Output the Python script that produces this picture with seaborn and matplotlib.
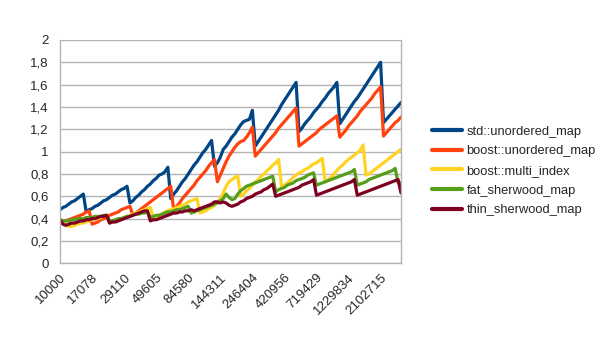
import matplotlib
matplotlib.use("Agg")
import matplotlib.pyplot as plt
import seaborn as sns
import pandas as pd
from matplotlib.lines import Line2D

series_names = ["std::unordered_map", "boost::unordered_map", "boost::multi_index",
                "fat_sherwood_map", "thin_sherwood_map"]
colors = ["#004586", "#ff420e", "#ffd320", "#579d1c", "#7e0021"]

tick_labels = ["10000", "17078", "29110", "49605", "84580", "144311",
               "246404", "420956", "719429", "1229834", "2102715"]

std_unordered = [
    0.48, 0.50, 0.51, 0.53, 0.55, 0.56, 0.58, 0.60, 0.62,
    0.46, 0.48, 0.49, 0.51, 0.52, 0.54, 0.56, 0.57, 0.59, 0.61, 0.62, 0.64, 0.66, 0.67, 0.69,
    0.54, 0.56, 0.59, 0.61, 0.64, 0.66, 0.69, 0.71, 0.74, 0.76, 0.79, 0.80, 0.82, 0.86,
    0.58, 0.62, 0.65, 0.69, 0.73, 0.76, 0.80, 0.84, 0.88, 0.91, 0.95, 0.99, 1.02, 1.06, 1.10,
    0.87, 0.90, 0.95, 1.02, 1.05, 1.09, 1.13, 1.16, 1.20, 1.24, 1.27, 1.28, 1.29, 1.37,
    1.05, 1.09, 1.13, 1.17, 1.21, 1.25, 1.29, 1.33, 1.37, 1.42, 1.46, 1.50, 1.54, 1.58, 1.62,
    1.18, 1.21, 1.25, 1.28, 1.31, 1.35, 1.38, 1.41, 1.45, 1.48, 1.52, 1.55, 1.58, 1.62,
    1.25, 1.29, 1.33, 1.37, 1.41, 1.45, 1.48, 1.52, 1.56, 1.60, 1.64, 1.68, 1.72, 1.76, 1.80,
    1.26, 1.29, 1.32, 1.35, 1.38, 1.41, 1.44,
]

boost_unordered = [
    0.36, 0.37, 0.38, 0.39, 0.40, 0.41, 0.42, 0.43, 0.44, 0.46, 0.47,
    0.35, 0.36, 0.37, 0.39, 0.40, 0.41, 0.43, 0.44, 0.45, 0.46, 0.48, 0.49, 0.50, 0.51,
    0.43, 0.45, 0.47, 0.49, 0.51, 0.53, 0.55, 0.57, 0.59, 0.61, 0.63, 0.65, 0.67, 0.69,
    0.48, 0.51, 0.54, 0.58, 0.61, 0.64, 0.67, 0.70, 0.74, 0.77, 0.80, 0.83, 0.87, 0.90, 0.93,
    0.73, 0.79, 0.85, 0.91, 0.96, 1.00, 1.04, 1.07, 1.09, 1.10, 1.13, 1.17, 1.22,
    0.96, 0.99, 1.02, 1.05, 1.08, 1.11, 1.14, 1.17, 1.21, 1.24, 1.27, 1.30, 1.33, 1.36, 1.39,
    1.05, 1.07, 1.09, 1.11, 1.13, 1.15, 1.17, 1.20, 1.22, 1.24, 1.26, 1.28, 1.30, 1.32,
    1.13, 1.16, 1.19, 1.23, 1.26, 1.29, 1.32, 1.36, 1.39, 1.42, 1.45, 1.48, 1.52, 1.55, 1.58,
    1.14, 1.17, 1.20, 1.23, 1.26, 1.28, 1.31,
]

boost_multi_index = [
    0.39, 0.37, 0.34, 0.33, 0.33, 0.34, 0.35, 0.36, 0.36, 0.37, 0.38, 0.39, 0.40, 0.40, 0.41, 0.42, 0.43,
    0.36, 0.37, 0.38, 0.39, 0.40, 0.41, 0.42, 0.43, 0.44, 0.45, 0.46, 0.47, 0.48, 0.49, 0.50,
    0.41, 0.42, 0.43, 0.44, 0.46, 0.47, 0.48, 0.49, 0.50, 0.51, 0.52, 0.53, 0.55, 0.56, 0.57, 0.58,
    0.45, 0.46, 0.47, 0.49, 0.50, 0.52, 0.55, 0.58, 0.63, 0.69, 0.73, 0.75, 0.77, 0.78,
    0.60, 0.62, 0.65, 0.67, 0.70, 0.73, 0.75, 0.78, 0.80, 0.83, 0.85, 0.88, 0.90, 0.93,
    0.69, 0.70, 0.72, 0.74, 0.77, 0.79, 0.81, 0.82, 0.84, 0.85, 0.87, 0.89, 0.90, 0.92, 0.94,
    0.73, 0.75, 0.77, 0.80, 0.83, 0.86, 0.88, 0.91, 0.93, 0.95, 0.97, 0.99, 1.01, 1.06,
    0.79, 0.80, 0.82, 0.84, 0.86, 0.88, 0.90, 0.92, 0.94, 0.96, 0.98, 1.00, 1.02,
]

fat_sherwood = [
    0.39, 0.38, 0.38, 0.38, 0.39, 0.39, 0.40, 0.40, 0.40, 0.41, 0.41, 0.41, 0.42, 0.42, 0.42, 0.43, 0.43,
    0.38, 0.38, 0.39, 0.40, 0.40, 0.41, 0.42, 0.42, 0.43, 0.44, 0.44, 0.45, 0.45, 0.46,
    0.41, 0.42, 0.43, 0.43, 0.44, 0.45, 0.46, 0.46, 0.47, 0.48, 0.48, 0.49, 0.50, 0.51,
    0.45, 0.46, 0.47, 0.48, 0.49, 0.50, 0.51, 0.52, 0.53, 0.54, 0.56, 0.58, 0.62,
    0.59, 0.57, 0.58, 0.62, 0.65, 0.67, 0.69, 0.70, 0.71, 0.72, 0.73, 0.74, 0.75, 0.76, 0.77, 0.78,
    0.64, 0.66, 0.67, 0.68, 0.70, 0.71, 0.72, 0.74, 0.75, 0.76, 0.77, 0.79, 0.80, 0.81,
    0.70, 0.71, 0.72, 0.73, 0.74, 0.75, 0.76, 0.77, 0.78, 0.79, 0.80, 0.81, 0.82, 0.84,
    0.70, 0.71, 0.72, 0.73, 0.75, 0.76, 0.77, 0.78, 0.79, 0.80, 0.81, 0.82, 0.83, 0.85,
    0.72, 0.72,
]

thin_sherwood = [
    0.39, 0.35, 0.34, 0.35, 0.36, 0.36, 0.37, 0.38, 0.38, 0.39, 0.39, 0.40, 0.40, 0.41, 0.42, 0.42, 0.43,
    0.36, 0.37, 0.37, 0.38, 0.39, 0.40, 0.41, 0.42, 0.43, 0.44, 0.45, 0.46, 0.47, 0.47,
    0.38, 0.39, 0.39, 0.40, 0.41, 0.42, 0.43, 0.44, 0.45, 0.45, 0.46, 0.46, 0.47, 0.47, 0.48,
    0.47, 0.48, 0.49, 0.50, 0.51, 0.52, 0.53, 0.55, 0.55, 0.54, 0.55, 0.54, 0.52, 0.51,
    0.52, 0.53, 0.55, 0.56, 0.58, 0.59, 0.60, 0.62, 0.63, 0.64, 0.66, 0.67, 0.69, 0.71,
    0.60, 0.61, 0.62, 0.63, 0.64, 0.65, 0.66, 0.67, 0.68, 0.70, 0.71, 0.72, 0.73, 0.75,
    0.61, 0.62, 0.63, 0.64, 0.65, 0.66, 0.67, 0.68, 0.69, 0.70, 0.71, 0.72, 0.73, 0.75,
    0.61, 0.62, 0.63, 0.64, 0.65, 0.66, 0.67, 0.68, 0.69, 0.70, 0.71, 0.72, 0.73, 0.74, 0.75,
    0.63,
]

all_series = [std_unordered, boost_unordered, boost_multi_index, fat_sherwood, thin_sherwood]
n = len(std_unordered)

rows = []
for name, vals in zip(series_names, all_series):
    for i, v in enumerate(vals):
        rows.append({"idx": i, "time": v, "container": name})
df = pd.DataFrame(rows)

sns.set_style("white")
plt.rcParams["font.family"] = ["Liberation Sans", "DejaVu Sans"]

fig = plt.figure(figsize=(6.05, 3.40), dpi=100)
ax = fig.add_axes([60 / 605, 1 - 263.3 / 340, 341 / 605, 223.3 / 340])

sns.lineplot(data=df, x="idx", y="time", hue="container", hue_order=series_names,
             palette=colors, linewidth=2.3, ax=ax, legend=False)

ax.set_xlim(0, n - 1)
ax.set_ylim(0, 2)
ax.set_yticks([i * 0.2 for i in range(11)])
ax.set_yticklabels([("%.1f" % (i * 0.2)).replace(".", ",").replace(",0", "") if i % 5 else str(i // 5)
                    for i in range(11)], fontsize=9.5)
ax.yaxis.grid(True, color="#b3b3b3", linewidth=1)
ax.xaxis.grid(False)
ax.set_axisbelow(True)

ticks = list(range(n))
ax.set_xticks(ticks)
labels = [""] * n
for k, lab in enumerate(tick_labels):
    labels[k * 11] = lab
ax.set_xticklabels(labels, rotation=45, ha="right", rotation_mode="anchor", fontsize=9.5)
ax.tick_params(axis="x", length=4, color="#b3b3b3", width=1, pad=2)
ax.tick_params(axis="y", length=0, pad=8)
ax.set_xlabel("")
ax.set_ylabel("")

for side in ["left", "right", "bottom"]:
    ax.spines[side].set_visible(True)
    ax.spines[side].set_color("#b3b3b3")
    ax.spines[side].set_linewidth(1)
ax.spines["top"].set_visible(False)

handles = [Line2D([0], [0], color=c, linewidth=3) for c in colors]
fig.legend(handles, series_names, loc="center left", bbox_to_anchor=(427 / 605, 1 - 171 / 340),
           frameon=False, fontsize=9.3, handlelength=2.3, handletextpad=0.35,
           labelspacing=0.58, borderaxespad=0)

fig.savefig("out.png", dpi=100)
